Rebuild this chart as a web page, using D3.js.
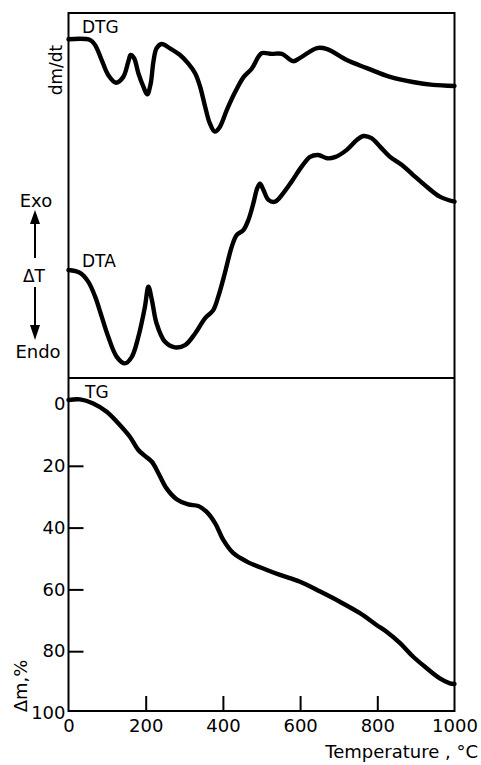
<!DOCTYPE html>
<html>
<head>
<meta charset="utf-8">
<script src="https://cdn.jsdelivr.net/npm/d3@7"></script>
<style>
  html, body { margin: 0; padding: 0; background: #fff; }
  svg { display: block; }
  text { font-family: "DejaVu Sans", sans-serif; fill: #000; }
</style>
</head>
<body>
<svg id="chart" width="481" height="765"></svg>
<script>
// ---- Data ----
// DTG (relative units, top panel)
const dtgTemp = [0, 56, 69, 86, 103, 123, 142, 155, 161, 170, 181, 194, 204, 213, 220, 228, 241, 263, 289, 310, 328, 341, 354, 366, 379, 392, 410, 432, 454, 475, 492, 501, 527, 553, 582, 600, 644, 670, 721, 773, 833, 892, 944, 1000];
const dtgValue = [92.8, 92.6, 91.2, 87.1, 83.0, 80.9, 82.5, 86.7, 88.5, 87.6, 83.5, 79.8, 77.7, 80.7, 86.7, 90.3, 91.5, 90.3, 88.5, 86.2, 83.5, 79.8, 74.3, 69.8, 67.5, 68.8, 73.4, 78.4, 82.5, 84.8, 88.0, 89.0, 88.8, 88.8, 86.8, 87.7, 90.4, 90.1, 87.1, 84.9, 82.5, 81.1, 80.3, 80.0];
// DTA (relative units, top panel)
const dtaTemp = [0, 30, 51, 69, 86, 103, 125, 146, 164, 181, 198, 207, 216, 228, 250, 276, 302, 328, 354, 375, 388, 405, 423, 436, 453, 466, 479, 489, 496, 505, 518, 535, 556, 578, 604, 626, 647, 670, 690, 721, 747, 764, 785, 807, 833, 863, 893, 928, 962, 1000];
const dtaValue = [29.6, 28.8, 26.4, 22.3, 16.8, 11.3, 5.8, 4.0, 5.8, 11.3, 19.5, 25.0, 21.4, 15.0, 9.9, 8.4, 9.0, 12.2, 16.4, 18.6, 22.3, 28.7, 36.0, 39.2, 40.5, 43.3, 47.9, 52.0, 53.2, 51.5, 48.8, 48.3, 50.6, 53.8, 57.9, 60.6, 61.1, 60.2, 60.5, 62.5, 65.2, 66.3, 65.7, 63.4, 60.6, 58.4, 55.6, 52.4, 49.7, 48.3];
// TG mass loss, %
const tgTemp = [0, 30, 64, 99, 133, 159, 181, 198, 216, 233, 254, 280, 310, 336, 358, 380, 401, 427, 462, 514, 548, 600, 652, 703, 755, 798, 824, 859, 893, 928, 962, 988, 1000];
const tgValue = [-1.3, -1.5, -0.2, 2.5, 6.8, 10.6, 14.9, 16.8, 18.7, 22.4, 27.3, 30.8, 32.5, 33.0, 34.9, 38.6, 44.0, 48.3, 51.0, 53.7, 55.3, 57.5, 60.7, 64.0, 67.7, 71.5, 73.7, 77.4, 81.8, 85.5, 88.8, 90.4, 90.6];
// Ticks
const xTicks = [0, 200, 400, 600, 800, 1000];
const tgTicks = [0, 20, 40, 60, 80, 100];
const xLabel = "Temperature , °C";
const tgAxisLabel = "Δm,%";

// ---- Layout ----
const svg = d3.select("#chart");
const x = d3.scaleLinear().domain([0, 1000]).range([68.5, 454.5]);
const yTop = d3.scaleLinear().domain([0, 100]).range([378, 13]);
const yTG = d3.scaleLinear().domain([0, 100]).range([404, 713]);
const panelBottom = 711;

const L = x(0), R = x(1000), T = yTop(100), M = yTop(0);

// frame
const frame = svg.append("g").attr("stroke", "#000").attr("stroke-width", 2).attr("fill", "none");
frame.append("line").attr("x1", L).attr("x2", R).attr("y1", T).attr("y2", T);
frame.append("line").attr("x1", L).attr("x2", R).attr("y1", M).attr("y2", M);
frame.append("line").attr("x1", L).attr("x2", L).attr("y1", T - 1).attr("y2", panelBottom + 1);
frame.append("line").attr("x1", R).attr("x2", R).attr("y1", T - 1).attr("y2", panelBottom + 1);

// x axis (bottom)
const xAxis = d3.axisBottom(x).tickValues(xTicks).tickFormat(d3.format("d"))
  .tickSizeInner(-15).tickSizeOuter(0).tickPadding(8);
const gx = svg.append("g").attr("transform", `translate(0,${panelBottom})`).call(xAxis);
gx.select(".domain").attr("stroke-width", 2).attr("d", `M${L},0H${R}`);
gx.selectAll(".tick line").attr("stroke-width", 2)
  .attr("display", d => (d === 0 || d === 1000) ? "none" : null);
gx.selectAll(".tick text").style("font-size", "18px").attr("fill", "#000");

// y axis (TG)
const yAxis = d3.axisLeft(yTG).tickValues(tgTicks).tickFormat(d3.format("d"))
  .tickSizeInner(-15).tickSizeOuter(0).tickPadding(3);
const gy = svg.append("g").attr("transform", `translate(${L},0)`).call(yAxis);
gy.select(".domain").remove();
gy.selectAll(".tick line").attr("stroke-width", 2)
  .attr("display", d => (d === 0 || d === 100) ? "none" : null);
gy.selectAll(".tick text").style("font-size", "18px").attr("fill", "#000");

// curves
const line = d3.line().curve(d3.curveCatmullRom.alpha(0.5));
function draw(temps, vals, ys) {
  svg.append("path")
    .attr("d", line(temps.map((t, i) => [x(t), ys(vals[i])])))
    .attr("fill", "none").attr("stroke", "#000").attr("stroke-width", 4.4)
    .attr("stroke-linejoin", "round").attr("stroke-linecap", "round");
}
draw(dtgTemp, dtgValue, yTop);
draw(dtaTemp, dtaValue, yTop);
draw(tgTemp, tgValue, yTG);

// curve labels
svg.append("text").attr("x", 82).attr("y", 33).style("font-size", "17px").text("DTG");
svg.append("text").attr("x", 82).attr("y", 267).style("font-size", "17px").text("DTA");
svg.append("text").attr("x", 85).attr("y", 398).style("font-size", "17px").text("TG");

// left labels of top panel
svg.append("text").attr("transform", "translate(62,70) rotate(-90)")
  .attr("text-anchor", "middle").style("font-size", "17px").text("dm/dt");
svg.append("text").attr("x", 36).attr("y", 207).attr("text-anchor", "middle").style("font-size", "18px").text("Exo");
svg.append("text").attr("x", 34).attr("y", 282).attr("text-anchor", "middle").style("font-size", "17px").text("ΔT");
svg.append("text").attr("x", 38).attr("y", 358).attr("text-anchor", "middle").style("font-size", "18px").text("Endo");
const arr = svg.append("g");
arr.append("line").attr("x1", 35).attr("x2", 35).attr("y1", 222).attr("y2", 258).attr("stroke", "#000").attr("stroke-width", 2);
arr.append("path").attr("d", "M35,210L30,224L40,224Z").attr("fill", "#000");
arr.append("line").attr("x1", 35).attr("x2", 35).attr("y1", 287).attr("y2", 326).attr("stroke", "#000").attr("stroke-width", 2);
arr.append("path").attr("d", "M30,325L40,325L35,340Z").attr("fill", "#000");

// TG axis title (rotated)
svg.append("text").attr("transform", "translate(27,686) rotate(-90)")
  .attr("text-anchor", "middle").style("font-size", "18px").text(tgAxisLabel);

// x axis title
svg.append("text").attr("x", 478).attr("y", 758).attr("text-anchor", "end")
  .style("font-size", "18px").text(xLabel);
</script>
</body>
</html>
